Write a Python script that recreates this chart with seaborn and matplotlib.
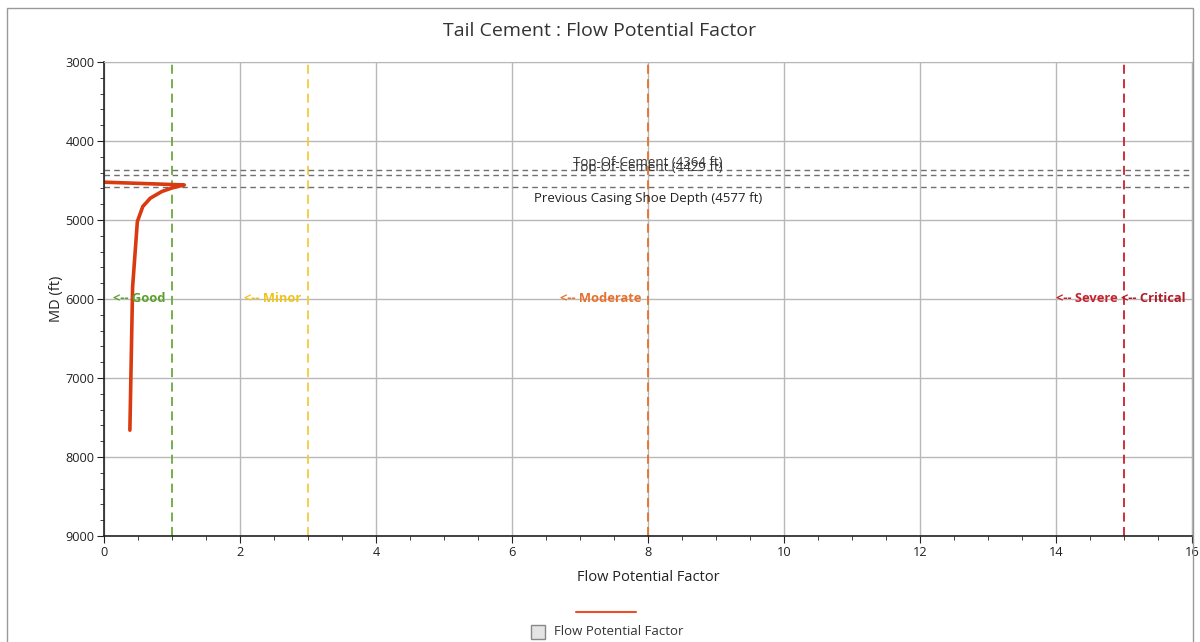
import matplotlib
matplotlib.use("Agg")
import matplotlib.pyplot as plt
import seaborn as sns
import pandas as pd
from matplotlib.patches import Rectangle
from matplotlib.lines import Line2D

# flow potential factor profile vs measured depth
fpf = [0.0, 1.18, 1.0, 0.85, 0.68, 0.57, 0.49, 0.42, 0.38]
md = [4522, 4557, 4595, 4640, 4725, 4830, 5020, 5850, 7660]

# risk thresholds
thresholds = [1, 3, 8, 15]
threshold_colors = ["#6aaa3a", "#f2cc3a", "#e8702a", "#c8202c"]
zone_names = ["Good", "Minor", "Moderate", "Severe", "Critical"]
zone_pos = [1, 3, 8, 15, 16]
zone_colors = ["#5aa02c", "#f0c419", "#e8702a", "#c8202c", "#b01c28"]

# reference depths
ref_depths = [4364, 4429, 4577]
ref_labels = ["Top-Of-Cement (4364 ft)", "Top-Of-Cement (4429 ft)",
              "Previous Casing Shoe Depth (4577 ft)"]

df = pd.DataFrame({"Flow Potential Factor": fpf, "MD": md})

sns.set_style("white")
plt.rcParams["font.family"] = ["Open Sans", "DejaVu Sans"]

fig = plt.figure(figsize=(12, 6.42), dpi=100)
ax = fig.add_axes([0.0867, 0.165, 0.9066, 0.7386])

ax.grid(True, which="major", color="#b8b8b8", linewidth=1)
ax.set_axisbelow(True)

for t, c in zip(thresholds, threshold_colors):
    ax.axvline(t, color=c, linestyle=(0, (5, 3)), linewidth=1.3)

for d in ref_depths:
    ax.axhline(d, color="#707070", linestyle=(0, (4, 3)), linewidth=1)

ax.text(8, ref_depths[0] - 10, ref_labels[0], ha="center", va="bottom",
        fontsize=9.5, color="#333333")
ax.text(8, ref_depths[1] - 10, ref_labels[1], ha="center", va="bottom",
        fontsize=9.5, color="#333333")
ax.text(8, ref_depths[2] + 70, ref_labels[2], ha="center", va="top",
        fontsize=9.5, color="#222222")

for name, pos, c in zip(zone_names, zone_pos, zone_colors):
    ax.text(pos - 0.1, 6000, "<-- " + name, ha="right", va="center",
            fontsize=9.3, fontweight="bold", color=c)

sns.lineplot(data=df, x="Flow Potential Factor", y="MD", sort=False,
             estimator=None, color="#d93a10", linewidth=2.6, ax=ax)

ax.set_xlim(0, 16)
ax.set_ylim(9000, 3000)
ax.set_xticks(range(0, 17, 2))
ax.set_yticks(range(3000, 9001, 1000))
ax.set_xticks([i * 0.5 for i in range(33)], minor=True)
ax.set_yticks(range(3000, 9001, 200), minor=True)
ax.tick_params(axis="both", which="major", direction="out", length=5,
               labelsize=9.2, colors="#222222", left=True, bottom=True,
               pad=2)
ax.tick_params(axis="both", which="minor", direction="out", length=3,
               left=True, bottom=True, colors="#222222")

for s in ["top", "right"]:
    ax.spines[s].set_color("#b8b8b8")
for s in ["left", "bottom"]:
    ax.spines[s].set_color("#222222")
    ax.spines[s].set_linewidth(1.2)

ax.set_xlabel("Flow Potential Factor", fontsize=10.5, color="#222222", labelpad=8)
ax.set_ylabel("MD (ft)", fontsize=10.5, color="#222222")
ax.yaxis.set_label_coords(-0.037, 0.5)
fig.suptitle("Tail Cement : Flow Potential Factor", y=0.965, fontsize=14,
             color="#333333")

# legend mimic: line over a checkbox
fig.add_artist(Line2D([0.48, 0.53], [0.047, 0.047], color="#e8502a",
                      linewidth=1.5, transform=fig.transFigure))
fig.add_artist(Rectangle((0.4425, 0.005), 0.0115, 0.022, facecolor="#e4e4e4",
                         edgecolor="#888888", linewidth=1,
                         transform=fig.transFigure))
fig.text(0.462, 0.016, "Flow Potential Factor", fontsize=9.5, va="center",
         color="#333333")

# outer frame
fig.add_artist(Rectangle((0.006, -0.01), 0.9885, 0.997, fill=False,
                         edgecolor="#999999", linewidth=1,
                         transform=fig.transFigure))

fig.savefig("out.png", dpi=100)
